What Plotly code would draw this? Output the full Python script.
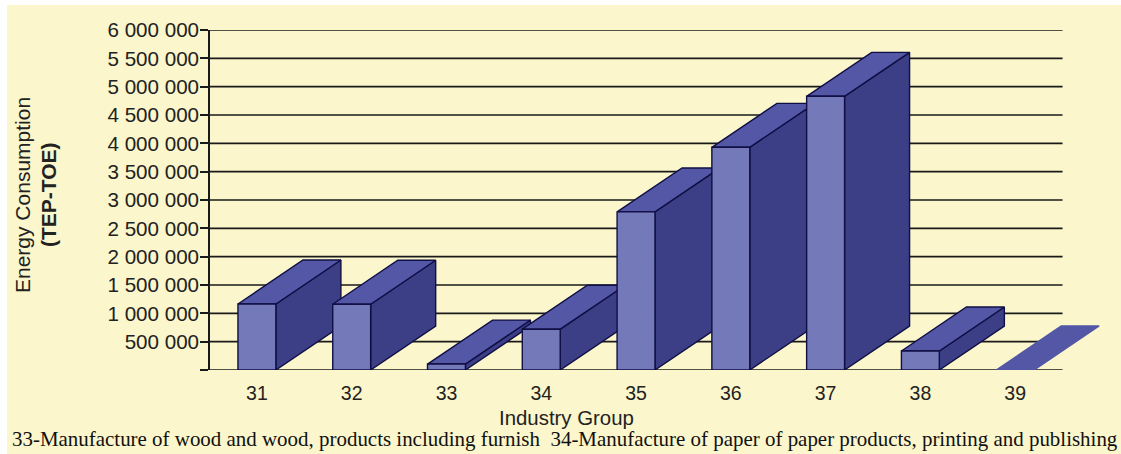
import plotly.graph_objects as go

categories = [31, 32, 33, 34, 35, 36, 37, 38, 39]
values = [1165000, 1160000, 105000, 720000, 2790000, 3930000, 4830000, 335000, 0]
y_ticks = [0, 500000, 1000000, 1500000, 2000000, 2500000, 3000000, 3500000, 4000000, 4500000, 5000000, 5500000, 6000000]
y_labels = ["", "500 000", "1 000 000", "1 500 000", "2 000 000", "2 500 000", "3 000 000", "3 500 000", "4 000 000", "4 500 000", "5 000 000", "5 500 000", "6 000 000"]
footnote = "33-Manufacture of wood and wood, products including furnish  34-Manufacture of paper of paper products, printing and publishing"

W, H = 1121, 454
L, R, T, B = 210, 1110, 30, 370
unit = 94.78
x0 = 30.505
x1 = x0 + (R - L) / unit
grid_end = 39.5
half = 0.2
dx = 0.686
dy = 776000

CREAM = "#fbf6cb"
FRONT = "#7479b9"
TOP = "#5357a6"
SIDE = "#3c3f86"
EDGE = "#0f0f45"
INK = "#222222"

fig = go.Figure()

gx, gy = [], []
for t in y_ticks:
    gx += [x0, grid_end, None]
    gy += [t, t, None]
fig.add_trace(go.Scatter(x=gx, y=gy, mode="lines", line=dict(color="#1a1a1a", width=1.6), hoverinfo="skip", showlegend=False))

def face(xs, ys, color, edge=True):
    fig.add_trace(go.Scatter(x=xs, y=ys, mode="lines", fill="toself", fillcolor=color,
                             line=dict(color=EDGE if edge else color, width=1.4),
                             hoverinfo="skip", showlegend=False, cliponaxis=False))

for c, v in zip(categories, values):
    a, b = c - half, c + half
    if v > 0:
        face([b, b + dx, b + dx, b, b], [0, dy, v + dy, v, 0], SIDE)
    face([a, a + dx, b + dx, b, a], [v, v + dy, v + dy, v, v], TOP, edge=v > 0)
    if v > 0:
        face([a, b, b, a, a], [0, 0, v, v, 0], FRONT)

fig.update_layout(
    width=W, height=H,
    margin=dict(l=L, r=W - R, t=T, b=H - B, pad=0),
    paper_bgcolor=CREAM, plot_bgcolor=CREAM,
    showlegend=False,
    font=dict(family="Liberation Sans, Arial, sans-serif", color=INK),
    xaxis=dict(range=[x0, x1], tickmode="array", tickvals=categories, ticktext=[str(c) for c in categories],
               showgrid=False, zeroline=False, showline=False, ticks="outside", ticklen=6,
               tickcolor="rgba(0,0,0,0)", tickfont=dict(size=19.5)),
    yaxis=dict(range=[0, 6000000], tickmode="array", tickvals=y_ticks, ticktext=y_labels,
               showgrid=False, zeroline=False, showline=True, linecolor="#1a1a1a", linewidth=1.6,
               ticks="outside", ticklen=8, tickcolor="#1a1a1a", tickwidth=1.6, tickfont=dict(size=20.6),
               ticklabelstandoff=-3),
    annotations=[
        dict(text="Energy Consumption", xref="paper", yref="paper", x=(22 - L) / (R - L), y=(B - 195) / (B - T),
             showarrow=False, textangle=-90, xanchor="center", yanchor="middle", font=dict(size=21, color=INK)),
        dict(text="<b>(TEP-TOE)</b>", xref="paper", yref="paper", x=(48 - L) / (R - L), y=(B - 195) / (B - T),
             showarrow=False, textangle=-90, xanchor="center", yanchor="middle", font=dict(size=21, color=INK)),
        dict(text="Industry Group", xref="paper", yref="paper", x=(566 - L) / (R - L), y=(B - 418) / (B - T),
             showarrow=False, xanchor="center", yanchor="middle", font=dict(size=20.4, color=INK)),
        dict(text=footnote, xref="paper", yref="paper", x=(564.5 - L) / (R - L), y=(B - 439) / (B - T),
             showarrow=False, xanchor="center", yanchor="middle",
             font=dict(size=20.95, color="#111111", family="Liberation Serif, Times New Roman, serif")),
    ],
    shapes=[
        dict(type="rect", xref="paper", yref="paper", x0=-L / (R - L), x1=(7 - L) / (R - L), y0=-(H - B) / (B - T), y1=B / (B - T),
             fillcolor="white", line=dict(width=0), layer="above"),
        dict(type="rect", xref="paper", yref="paper", x0=-L / (R - L), x1=(W - L) / (R - L), y0=(B - 5) / (B - T), y1=B / (B - T),
             fillcolor="white", line=dict(width=0), layer="above"),
    ],
)

fig.write_html("out.html", config={"displayModeBar": False},
               post_script="document.body.style.margin='0';document.body.style.overflow='hidden';")
